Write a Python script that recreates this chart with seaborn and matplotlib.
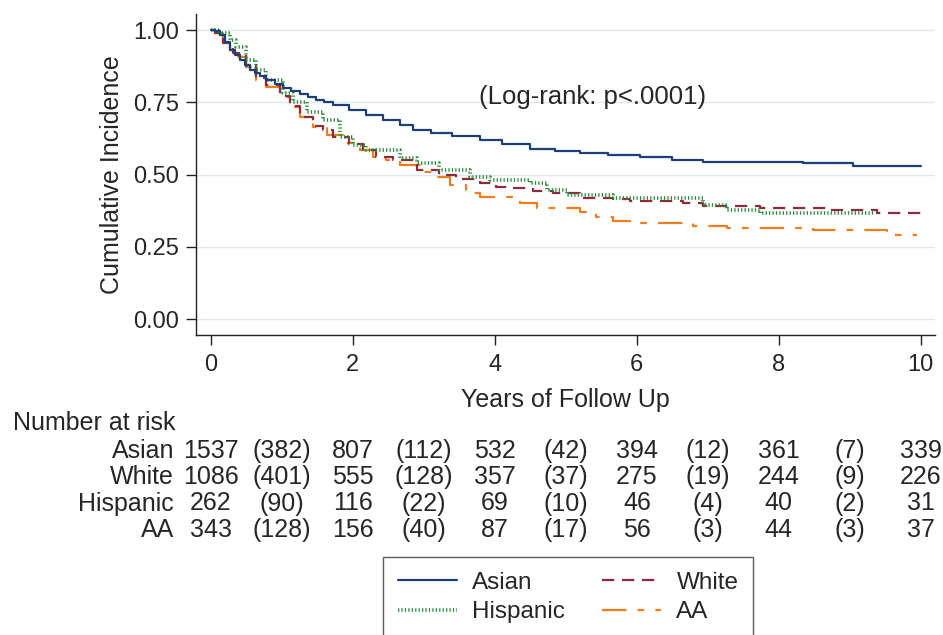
import numpy as np
import pandas as pd
import matplotlib
matplotlib.use("Agg")
import matplotlib.pyplot as plt
import seaborn as sns
from matplotlib.transforms import blended_transform_factory

# ---------------- data ----------------
groups = ["Asian", "White", "Hispanic", "AA"]

asian_t = [0, 0.06, 0.13, 0.20, 0.27, 0.34, 0.41, 0.48, 0.55, 0.62, 0.69, 0.78, 0.90,
           1.02, 1.13, 1.25, 1.37, 1.48, 1.60, 1.72, 1.95, 2.19, 2.42, 2.66, 2.85, 3.10,
           3.40, 3.79, 4.10, 4.49, 4.85, 5.20, 5.60, 6.04, 6.50, 6.93, 8.34, 9.04, 10.0]
asian_v = [1.0, 0.995, 0.983, 0.960, 0.931, 0.913, 0.896, 0.879, 0.862, 0.850, 0.841, 0.827, 0.813,
           0.798, 0.789, 0.779, 0.769, 0.758, 0.750, 0.740, 0.723, 0.706, 0.689, 0.671, 0.654, 0.645,
           0.633, 0.619, 0.605, 0.590, 0.581, 0.574, 0.567, 0.560, 0.552, 0.544, 0.539, 0.530, 0.530]

white_t = [0, 0.06, 0.17, 0.31, 0.50, 0.64, 0.78, 0.97, 1.11, 1.25, 1.44, 1.58, 1.72, 1.95,
           2.15, 2.33, 2.57, 2.90, 3.22, 3.46, 3.79, 4.02, 4.26, 4.54, 4.82, 5.20, 5.66, 5.90,
           6.65, 6.93, 7.73, 8.67, 9.38, 10.0]
white_v = [1.0, 0.99, 0.955, 0.920, 0.875, 0.835, 0.810, 0.772, 0.738, 0.700, 0.668, 0.654, 0.631, 0.605,
           0.585, 0.562, 0.550, 0.516, 0.498, 0.483, 0.470, 0.458, 0.452, 0.444, 0.435, 0.418, 0.414, 0.410,
           0.401, 0.390, 0.384, 0.377, 0.368, 0.368]

hisp_t = [0, 0.10, 0.27, 0.36, 0.50, 0.64, 0.78, 1.02, 1.15, 1.35, 1.58, 1.82, 2.00, 2.19,
          2.66, 2.90, 3.22, 3.65, 3.93, 4.49, 4.73, 5.01, 5.66, 6.93, 7.27, 7.73, 9.32]
hisp_v = [1.0, 0.99, 0.965, 0.942, 0.896, 0.862, 0.827, 0.782, 0.752, 0.717, 0.689, 0.631, 0.602, 0.585,
          0.556, 0.539, 0.515, 0.493, 0.481, 0.470, 0.446, 0.429, 0.418, 0.394, 0.377, 0.367, 0.367]

aa_t = [0, 0.06, 0.17, 0.27, 0.36, 0.50, 0.64, 0.78, 0.97, 1.11, 1.25, 1.44, 1.63, 1.86,
        2.10, 2.29, 2.47, 2.66, 2.94, 3.13, 3.37, 3.60, 3.79, 4.35, 4.59, 5.20, 5.43, 5.66,
        5.95, 6.79, 7.27, 8.48, 9.52, 9.60, 9.94]
aa_v = [1.0, 0.99, 0.955, 0.930, 0.908, 0.873, 0.827, 0.804, 0.769, 0.735, 0.700, 0.666, 0.637, 0.608,
        0.585, 0.562, 0.550, 0.533, 0.510, 0.490, 0.464, 0.436, 0.423, 0.400, 0.383, 0.371, 0.354, 0.340,
        0.332, 0.322, 0.316, 0.308, 0.299, 0.290, 0.290]

risk_asian = ["1537", "(382)", "807", "(112)", "532", "(42)", "394", "(12)", "361", "(7)", "339"]
risk_white = ["1086", "(401)", "555", "(128)", "357", "(37)", "275", "(19)", "244", "(9)", "226"]
risk_hisp = ["262", "(90)", "116", "(22)", "69", "(10)", "46", "(4)", "40", "(2)", "31"]
risk_aa = ["343", "(128)", "156", "(40)", "87", "(17)", "56", "(3)", "44", "(3)", "37"]
risk_x = [0, 1, 2, 3, 4, 5, 6, 7, 8, 9, 10]

x_ticks = [0, 2, 4, 6, 8, 10]
y_ticks = [0.0, 0.25, 0.5, 0.75, 1.0]
y_ticklabels = ["0.00", "0.25", "0.50", "0.75", "1.00"]

# ---------------- style ----------------
sns.set_style("white")
plt.rcParams["font.family"] = ["Liberation Sans", "DejaVu Sans"]

colors = {"Asian": "#1d3f78", "White": "#8e2a3a", "Hispanic": "#2b8a3b", "AA": "#f07d1c"}

fig = plt.figure(figsize=(9.43, 6.35), dpi=100)
ax = fig.add_axes([0.2078, 0.4724, 0.7837, 0.5055])

series = {
    "Asian": (asian_t, asian_v),
    "White": (white_t, white_v),
    "Hispanic": (hisp_t, hisp_v),
    "AA": (aa_t, aa_v),
}
frames = [pd.DataFrame({"t": t, "v": v, "group": g}) for g, (t, v) in series.items()]
df = pd.concat(frames, ignore_index=True)

styles = {
    "Asian": dict(linestyle="-", lw=1.6),
    "White": dict(dashes=(5.5, 3.5), lw=1.6),
    "Hispanic": dict(dashes=(0.35, 0.6), lw=2.6),
    "AA": dict(dashes=(11, 5, 3, 5), lw=1.6),
}
handles = {}
for g in ["AA", "White", "Hispanic", "Asian"]:
    sub = df[df["group"] == g]
    sns.lineplot(data=sub, x="t", y="v", ax=ax, color=colors[g], drawstyle="steps-post",
                 estimator=None, sort=False, label=g, **styles[g])
    handles[g] = ax.get_lines()[-1]

ax.set_xlim(-0.21, 10.2)
ax.set_ylim(-0.0554, 1.0554)
ax.set_xticks(x_ticks)
ax.set_xticklabels([str(x) for x in x_ticks])
ax.set_yticks(y_ticks)
ax.set_yticklabels(y_ticklabels)
for yv in y_ticks:
    ax.axhline(yv, color="#e0e8ef", lw=1.0, zorder=0)

for s in ["top", "right"]:
    ax.spines[s].set_visible(False)
for s in ["left", "bottom"]:
    ax.spines[s].set_color("#222222")
    ax.spines[s].set_linewidth(1.0)
ax.tick_params(axis="both", direction="out", length=7, width=1.0, color="#222222",
               labelsize=17, pad=5, left=True, bottom=True)
ax.tick_params(axis="x", pad=7)

ax.set_xlabel("Years of Follow Up", fontsize=18, labelpad=8)
ax.set_ylabel("Cumulative Incidence", fontsize=18, labelpad=7)

ax.text(5.37, 0.768, "(Log-rank: p<.0001)", fontsize=18.5, ha="center", va="center")

# legend
leg = ax.legend([handles["Asian"], handles["Hispanic"], handles["White"], handles["AA"]],
                ["Asian", "Hispanic", "White", "AA"],
                ncol=2, loc="upper left", bbox_to_anchor=(383 / 943, (635 - 557) / 635),
                bbox_transform=fig.transFigure, borderaxespad=0, fontsize=17.5, frameon=True,
                fancybox=False, edgecolor="#333333", handlelength=2.43, handletextpad=0.62,
                columnspacing=1.55, labelspacing=0.32, borderpad=0.6)
leg.get_frame().set_linewidth(1.0)

# risk table
trans = blended_transform_factory(ax.transData, fig.transFigure)
fig.text(13 / 943, (635 - 423) / 635, "Number at risk", fontsize=18, ha="left", va="center")
rows = [("Asian", risk_asian, 451), ("White", risk_white, 477),
        ("Hispanic", risk_hisp, 503.5), ("AA", risk_aa, 530)]
for name, vals, ypx in rows:
    yf = (635 - ypx) / 635
    fig.text(174 / 943, yf, name, fontsize=18, ha="right", va="center")
    for xv, txt in zip(risk_x, vals):
        ax.text(xv, yf, txt, transform=trans, fontsize=18, ha="center", va="center",
                clip_on=False)

fig.savefig("out.png", dpi=100)
